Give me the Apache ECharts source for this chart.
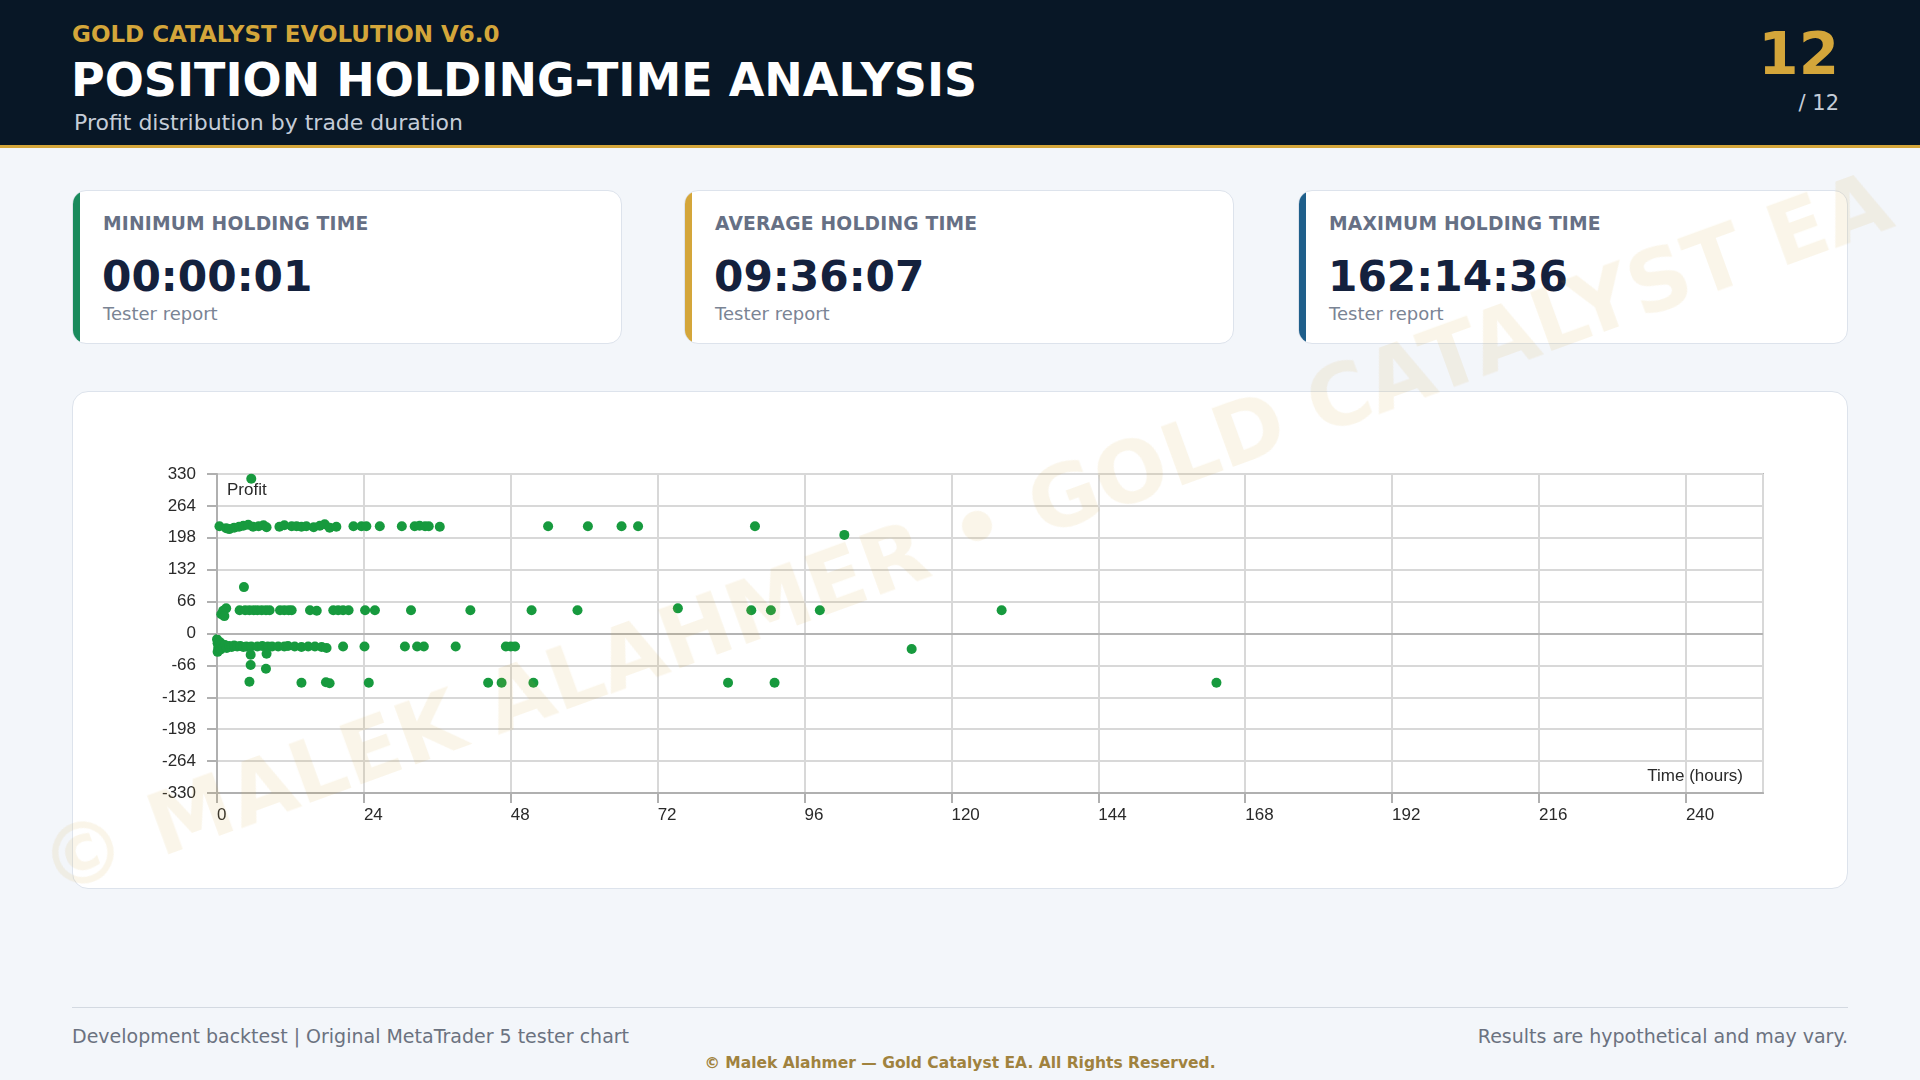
<!DOCTYPE html>
<html>
<head>
<meta charset="utf-8">
<script src="https://cdn.jsdelivr.net/npm/echarts@6/dist/echarts.min.js"></script>
<style>
  html, body { margin:0; padding:0; width:1920px; height:1080px; overflow:hidden; background:#f3f6fa; font-family:"DejaVu Sans", sans-serif; }
  .abs { position:absolute; white-space:nowrap; }
  #header { position:absolute; left:0; top:0; width:1920px; height:145px; background:#081726; border-bottom:3px solid #d4a63a; }
  .card { position:absolute; top:190px; width:548px; height:152px; background:#fff; border:1px solid #dde3ec; border-radius:14px; box-sizing:content-box; overflow:hidden; }
  .card .bar { position:absolute; left:0; top:0; width:7px; height:100%; }
  .card .lbl { position:absolute; left:30px; top:22px; font-size:18.7px; font-weight:bold; color:#667085; letter-spacing:0.2px; }
  .card .val { position:absolute; left:29px; top:61px; font-size:42.3px; font-weight:bold; color:#14213d; }
  .card .sub { position:absolute; left:30px; top:112px; font-size:18px; color:#7a8494; }
  #chartCard { position:absolute; left:72px; top:391px; width:1774px; height:496px; background:#fff; border:1px solid #dde3ec; border-radius:16px; }
  #chart { position:absolute; left:0; top:0; width:1774px; height:496px; }
  #wm { position:absolute; left:965px; top:533px; transform:translate(-50%,-50%) rotate(-20deg); font-size:85px; font-weight:bold; color:rgba(212,166,58,0.11); white-space:nowrap; pointer-events:none; z-index:50; }
</style>
</head>
<body>
<div id="header">
  <div class="abs" style="left:72px; top:21px; font-size:23px; font-weight:bold; color:#d4a63a;">GOLD CATALYST EVOLUTION V6.0</div>
  <div class="abs" style="left:71px; top:53px; font-size:46px; font-weight:bold; color:#ffffff;">POSITION HOLDING-TIME ANALYSIS</div>
  <div class="abs" style="left:74px; top:110px; font-size:22px; color:#c5cdd8;">Profit distribution by trade duration</div>
  <div class="abs" style="right:81px; top:20px; font-size:58px; font-weight:bold; color:#d4a63a;">12</div>
  <div class="abs" style="right:81px; top:91px; font-size:21px; color:#c5cdd8;">/ 12</div>
</div>

<div id="cards"></div>

<div id="chartCard"><div id="chart"></div></div>

<div class="abs" style="left:72px; top:1007px; width:1776px; height:1px; background:#d3d9e1;"></div>
<div class="abs" style="left:72px; top:1025px; font-size:19px; color:#6b7280;">Development backtest | Original MetaTrader 5 tester chart</div>
<div class="abs" style="right:72px; top:1025px; font-size:19px; color:#6b7280;">Results are hypothetical and may vary.</div>
<div class="abs" style="left:0; width:1920px; text-align:center; top:1054px; font-size:15.5px; font-weight:bold; color:#a0823e;">© Malek Alahmer — Gold Catalyst EA. All Rights Reserved.</div>

<div id="wm">© MALEK ALAHMER • GOLD CATALYST EA</div>

<script>
// ---- Stat cards ----
const statLabels = ["MINIMUM HOLDING TIME", "AVERAGE HOLDING TIME", "MAXIMUM HOLDING TIME"];
const statValues = ["00:00:01", "09:36:07", "162:14:36"];
const statNotes = ["Tester report", "Tester report", "Tester report"];
const statColors = ["#1a8a5c", "#d4a63a", "#1f5f8b"];

// ---- Axis ticks ----
const yMin = -330, yMax = 330, yStep = 66;
const xMin = 0, xMax = 252.6, xStep = 24;

// ---- Scatter data: [holding time (hours), profit] ----
const topRow = [
  [0.4,222],[1.5,218],[2.0,216],[2.8,219],[3.6,221],[4.3,223],[5.1,225],[5.9,221],[6.8,222],[7.6,224],
  [8.1,220],[10.2,221],[11.0,224],[12.2,222],[13.0,222],[13.8,221],[14.6,222],[15.8,220],[16.8,223],
  [17.6,226],[18.4,219],[19.5,221],[22.3,222],[23.6,222],[24.4,222],[26.6,222],[30.2,222],[32.3,222],
  [33.1,223],[34.0,222],[34.6,222],[36.4,221],[54.1,222],[60.6,222],[66.1,222],[68.8,222],[87.9,222],
  [102.5,204]
];
const highOutliers = [[5.6,320],[4.4,96]];
const midRow = [
  [0.7,40],[1.0,47],[1.5,52],[1.2,36],[3.7,48],[4.6,48],[5.3,48],[6.0,48],[6.6,48],[7.3,48],[8.0,48],
  [8.6,48],[10.3,48],[11.0,48],[11.7,48],[12.2,48],[15.2,48],[16.3,47],[19.0,48],[19.8,48],[20.6,48],
  [21.5,48],[24.2,48],[25.8,48],[31.7,48],[41.4,48],[51.4,48],[58.9,48],[75.3,52],[87.3,48],[90.5,48],
  [98.5,48],[128.2,48]
];
const lossRow = [
  [0.0,-12],[0.1,-20],[0.2,-30],[0.1,-38],[0.3,-25],[0.5,-18],[0.6,-33],[0.8,-22],[1.0,-28],[1.3,-24],
  [1.6,-30],[2.0,-26],[2.4,-28],[2.8,-25],[3.3,-27],[3.8,-26],[4.3,-28],[4.8,-27],[5.6,-27],[6.6,-27],
  [7.4,-26],[8.3,-27],[9.0,-27],[10.0,-27],[11.0,-27],[11.6,-26],[12.7,-27],[13.8,-28],[14.9,-27],
  [16.0,-27],[17.1,-28],[17.9,-30],[20.6,-27],[24.1,-27],[30.7,-27],[32.7,-27],[33.8,-27],[39.0,-27],
  [47.2,-27],[48.0,-27],[48.7,-27],[113.5,-32]
];
const lossOutliers = [[5.5,-44],[8.1,-42],[5.5,-65],[8.0,-73]];
const bigLossRow = [
  [5.3,-100],[13.8,-102],[17.8,-101],[18.4,-103],[24.8,-102],[44.3,-102],[46.5,-102],[51.7,-102],
  [83.5,-102],[91.1,-102],[163.3,-102]
];

// build cards
const cardsEl = document.getElementById('cards');
const cardLefts = [72, 684, 1298];
statLabels.forEach((l, i) => {
  const c = document.createElement('div');
  c.className = 'card';
  c.style.left = cardLefts[i] + 'px';
  c.innerHTML = '<div class="bar" style="background:' + statColors[i] + '"></div>' +
    '<div class="lbl">' + l + '</div><div class="val">' + statValues[i] + '</div><div class="sub">' + statNotes[i] + '</div>';
  cardsEl.appendChild(c);
});

const allPoints = [].concat(topRow, highOutliers, midRow, lossRow, lossOutliers, bigLossRow);

const chart = echarts.init(document.getElementById('chart'));
const labelFont = { fontFamily: 'Liberation Sans, Arial, sans-serif', fontSize: 17, color: '#2a2a2a' };
chart.setOption({
  animation: false,
  grid: {
    left: 144, top: 82, width: 1546, height: 319,
    show: true, backgroundColor: '#ffffff', borderColor: '#b8b8b8', borderWidth: 2,
    containLabel: false, outerBoundsMode: 'none'
  },
  xAxis: {
    type: 'value', min: xMin, max: xMax, interval: xStep,
    axisLine: { show: true, onZero: false, lineStyle: { color: '#b0b0b0', width: 2 } },
    axisTick: { show: true, length: 10, lineStyle: { color: '#b0b0b0', width: 2 } },
    splitLine: { show: true, lineStyle: { color: '#d8d8d8', width: 2 } },
    axisLabel: Object.assign({ align: 'left', padding: [0, 0, 0, 0], margin: 14, showMaxLabel: false,
      formatter: v => (v % xStep === 0 ? String(v) : '') }, labelFont)
  },
  yAxis: {
    type: 'value', min: yMin, max: yMax, interval: yStep,
    axisLine: { show: true, lineStyle: { color: '#b0b0b0', width: 2 } },
    axisTick: { show: true, length: 10, lineStyle: { color: '#b0b0b0', width: 2 } },
    splitLine: { show: true, lineStyle: { color: '#d8d8d8', width: 2 } },
    axisLabel: Object.assign({ margin: 21 }, labelFont)
  },
  graphic: [
    { type: 'text', left: 154, top: 90, style: { text: 'Profit', fill: '#2a2a2a', font: '17px "Liberation Sans", Arial, sans-serif' } },
    { type: 'text', right: 104, top: 376, style: { text: 'Time (hours)', fill: '#2a2a2a', font: '17px "Liberation Sans", Arial, sans-serif' } }
  ],
  series: [
    {
      type: 'scatter', data: [], z: 1, silent: true,
      markLine: { silent: true, symbol: 'none', label: { show: false }, animation: false,
        lineStyle: { color: '#b4b4b4', width: 2, type: 'solid' }, data: [{ yAxis: 0 }] }
    },
    {
      type: 'scatter', z: 3, symbol: 'circle', symbolSize: 10,
      itemStyle: { color: '#179a3e', opacity: 1 },
      data: allPoints
    }
  ]
});
</script>
</body>
</html>
